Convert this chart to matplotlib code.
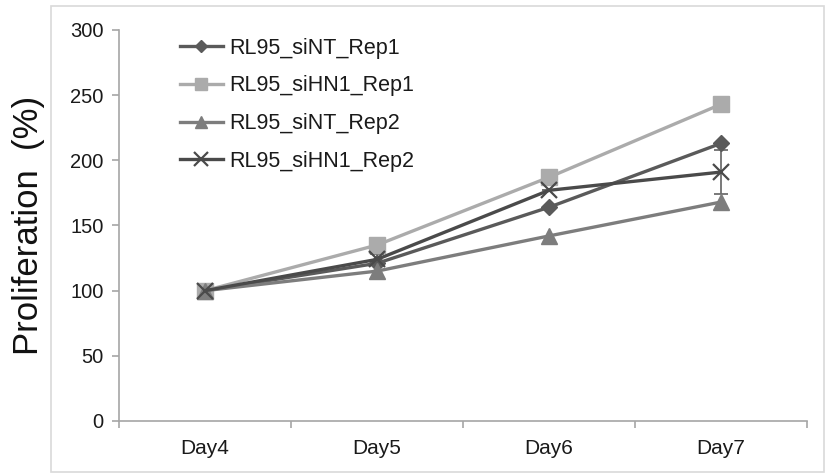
import matplotlib
matplotlib.use("Agg")
import matplotlib.pyplot as plt
from matplotlib.patches import Rectangle

plt.rcParams['font.family'] = ['Liberation Sans', 'DejaVu Sans']

days = ["Day4", "Day5", "Day6", "Day7"]
series_names = ["RL95_siNT_Rep1", "RL95_siHN1_Rep1", "RL95_siNT_Rep2", "RL95_siHN1_Rep2"]
siNT_rep1 = [100, 121, 164, 213]
siHN1_rep1 = [100, 135, 187, 243]
siNT_rep2 = [100, 115, 142, 168]
siHN1_rep2 = [100, 124, 177, 191]
siHN1_rep2_err = [0, 4, 0, 17]
y_ticks = [0, 50, 100, 150, 200, 250, 300]

W, H = 827, 476
fig = plt.figure(figsize=(W / 100, H / 100), dpi=100)
ax = fig.add_axes([119 / W, (H - 421) / H, (807 - 119) / W, (421 - 30) / H])

fig.patches.append(Rectangle((51 / W, (H - 472) / H), (824 - 51) / W, (472 - 6) / H,
                             transform=fig.transFigure, fill=False,
                             edgecolor="#d9d9d9", linewidth=1.2))

x = [i + 0.5 for i in range(len(days))]
styles = [
    (siNT_rep1, "#5a5a5a", "D", 8, None),
    (siHN1_rep1, "#ababab", "s", 11, None),
    (siNT_rep2, "#7d7d7d", "^", 11, None),
    (siHN1_rep2, "#4a4a4a", "x", 12, siHN1_rep2_err),
]
for (vals, col, mk, ms, err), name in zip(styles, series_names):
    if err is not None:
        ax.errorbar(x, vals, yerr=err, fmt="none", ecolor="#6e6e6e", elinewidth=1.3,
                    capsize=5, capthick=1.3, zorder=2)
        ax.plot(x, vals, color=col, marker=mk, markersize=ms, markeredgewidth=1.6,
                linewidth=2.4, label=name, zorder=3)
    else:
        ax.plot(x, vals, color=col, marker=mk, markersize=ms, linewidth=2.4,
                markeredgecolor=col, label=name, zorder=3)

ax.set_xlim(0, 4)
ax.set_ylim(0, 300)
ax.set_yticks(y_ticks)
ax.set_xticks([0, 1, 2, 3, 4])
ax.set_xticklabels([])
ax.set_xticks(x, minor=True)
ax.set_xticklabels(days, minor=True)
ax.tick_params(axis="x", which="minor", length=0, pad=13, labelsize=15, labelcolor="#1a1a1a")
ax.tick_params(axis="x", which="major", length=5, color="#a6a6a6", width=1.2)
ax.tick_params(axis="y", length=5, color="#a6a6a6", width=1.2, labelsize=14.5, pad=6,
               labelcolor="#1a1a1a")
for s in ["top", "right"]:
    ax.spines[s].set_visible(False)
for s in ["left", "bottom"]:
    ax.spines[s].set_color("#a6a6a6")
    ax.spines[s].set_linewidth(1.2)

ax.set_ylabel("Proliferation  (%)", fontsize=25, color="#111111")
ax.yaxis.set_label_coords(-(119 - 45) / (807 - 119), (421 - 225) / (421 - 30))

leg = ax.legend(loc="upper left", bbox_to_anchor=(0.06, 1.03), frameon=False,
                fontsize=15.5, handlelength=2.0, labelspacing=0.78, handletextpad=0.3,
                markerscale=0.8)
for t in leg.get_texts():
    t.set_color("#1a1a1a")

fig.savefig("out.png", dpi=100)
